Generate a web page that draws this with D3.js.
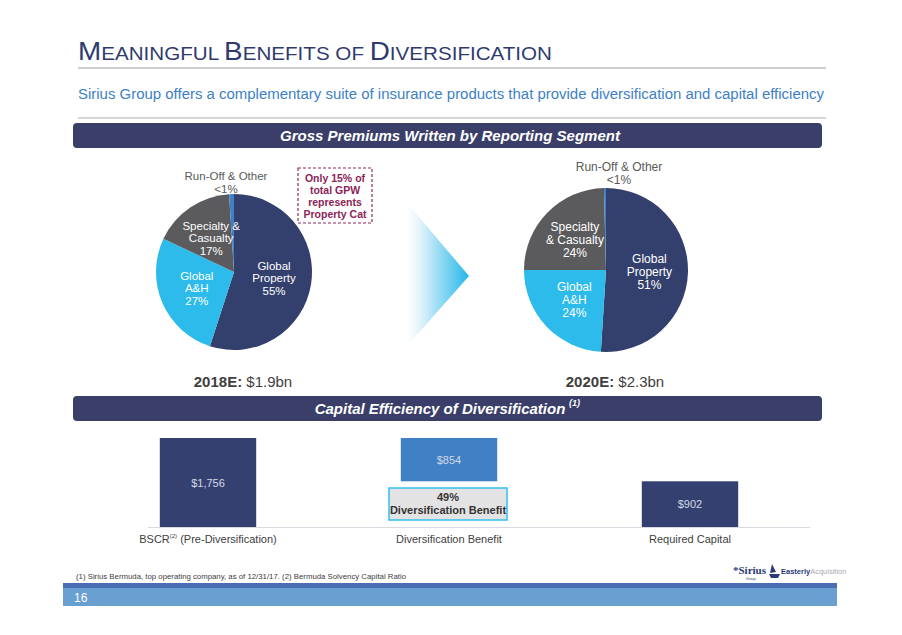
<!DOCTYPE html>
<html><head><meta charset="utf-8">
<script src="https://cdn.jsdelivr.net/npm/d3@7"></script>
<style>body{margin:0;background:#fff}svg{display:block;font-family:"Liberation Sans",Arial,sans-serif}</style>
</head><body><svg id="c" width="902" height="635"></svg>
<script>
// ---- data ----
const segments = ["Global Property","Global A&H","Specialty & Casualty","Run-Off & Other"];
const values2018 = [55, 27, 17, 1];
const labels2018 = [["Global","Property","55%"],["Global","A&H","27%"],["Specialty &","Casualty","17%"],["Run-Off & Other","<1%"]];
const values2020 = [51, 24, 24.6, 0.4];
const labels2020 = [["Global","Property","51%"],["Global","A&H","24%"],["Specialty","& Casualty","24%"],["Run-Off & Other","<1%"]];
const segmentColors = ["#333f6d","#2cbbea","#5b5b5d","#3e80c6"];
const capitalCategories = ["BSCR","Diversification Benefit","Required Capital"];
const capitalStart = [0, 902, 0];
const capitalEnd = [1756, 1756, 902];
const capitalLabels = ["$1,756","$854","$902"];
const capitalColors = ["#344170","#4080c4","#344170"];

const svg = d3.select("#c");
const defs = svg.append("defs");

// ---- title ----
const title = svg.append("text").attr("x",78).attr("y",60).attr("fill","#2f3b6f")
  .attr("textLength",474).attr("lengthAdjust","spacingAndGlyphs");
[["M",25],["EANINGFUL ",18.5],["B",25],["ENEFITS OF ",18.5],["D",25],["IVERSIFICATION",18.5]]
  .forEach(([t,s])=>title.append("tspan").attr("font-size",s).text(t));
svg.append("line").attr("x1",78).attr("x2",826).attr("y1",68).attr("y2",68).attr("stroke","#bdbdbd").attr("stroke-width",1.5);
svg.append("text").attr("x",78).attr("y",99).attr("font-size",15.5).attr("fill","#3d7fc6")
  .attr("textLength",746).attr("lengthAdjust","spacingAndGlyphs")
  .text("Sirius Group offers a complementary suite of insurance products that provide diversification and capital efficiency");
svg.append("line").attr("x1",78).attr("x2",826).attr("y1",118).attr("y2",118).attr("stroke","#c8c8c8").attr("stroke-width",1.5);

function header(y, txt, cx){
  svg.append("rect").attr("x",73).attr("y",y).attr("width",749).attr("height",25).attr("rx",4).attr("fill","#3a3e68");
  svg.append("text").attr("x",cx).attr("y",y+18).attr("text-anchor","middle").attr("fill","#fff")
    .attr("font-size",15).attr("font-weight","bold").attr("font-style","italic").text(txt);
}
header(123, "Gross Premiums Written by Reporting Segment", 450);
header(396, "Capital Efficiency of Diversification", 440);
svg.append("text").attr("x",569).attr("y",406).attr("fill","#fff").attr("font-size",9)
  .attr("font-weight","bold").attr("font-style","italic").text("(1)");

// ---- pies ----
function drawPie(cx, cy, r, values, labels, lf, fs, lh, runPos){
  const pie = d3.pie().sort(null).value(d=>d)(values);
  const arc = d3.arc().innerRadius(0).outerRadius(r);
  const larc = d3.arc().innerRadius(r*lf).outerRadius(r*lf);
  const g = svg.append("g").attr("transform",`translate(${cx},${cy})`);
  g.selectAll("path").data(pie).join("path").attr("d",arc).attr("fill",(d,i)=>segmentColors[i]);
  pie.forEach((d,i)=>{
    if(i===3) return;
    const [x,y] = larc.centroid(d);
    const lines = labels[i];
    const t = g.append("text").attr("text-anchor","middle").attr("fill","#fff").attr("font-size",fs);
    lines.forEach((l,k)=>t.append("tspan").attr("x",x).attr("y",y + (k-(lines.length-1)/2)*lh + fs*0.35).text(l));
  });
  const t = svg.append("text").attr("text-anchor","middle").attr("fill","#595959").attr("font-size",fs);
  labels[3].forEach((l,k)=>t.append("tspan").attr("x",runPos[0]).attr("y",runPos[1]+k*lh).text(l));
}
drawPie(234, 272, 78, values2018, labels2018, 0.52, 11.5, 12.5, [226,180]);
drawPie(606, 270, 82, values2020, labels2020, 0.53, 12, 13, [619,171]);

// callout
svg.append("rect").attr("x",298).attr("y",168).attr("width",74).attr("height",55)
  .attr("fill","#fff").attr("stroke","#8b2a5c").attr("stroke-width",1.2).attr("stroke-dasharray","3,2");
const co = svg.append("text").attr("text-anchor","middle").attr("fill","#8b2457").attr("font-size",10.5).attr("font-weight","bold");
["Only 15% of","total GPW","represents","Property Cat"].forEach((l,k)=>co.append("tspan").attr("x",335).attr("y",182+k*12).text(l));

// arrow
const grad = defs.append("linearGradient").attr("id","ag").attr("gradientUnits","userSpaceOnUse")
  .attr("x1",407).attr("x2",469).attr("y1",0).attr("y2",0);
grad.append("stop").attr("offset",0).attr("stop-color","#ffffff");
grad.append("stop").attr("offset",0.2).attr("stop-color","#e4f4fb");
grad.append("stop").attr("offset",1).attr("stop-color","#25b7e9");
svg.append("path").attr("d","M407,203 L469,276 L407,346 Z").attr("fill","url(#ag)");

// totals
function total(x, a, b){
  const t = svg.append("text").attr("x",x).attr("y",387).attr("text-anchor","middle").attr("fill","#3f3f3f").attr("font-size",15);
  t.append("tspan").attr("font-weight","bold").text(a);
  t.append("tspan").text(b);
}
total(243, "2018E:", " $1.9bn");
total(615, "2020E:", " $2.3bn");

// ---- capital bars ----
const x = d3.scaleBand().domain(capitalCategories).range([87.5, 810.5]).paddingInner(0.6).paddingOuter(0.3);
const y = d3.scaleLinear().domain([0, 1756]).range([527, 438]);
svg.append("g").selectAll("rect").data(capitalCategories).join("rect")
  .attr("x",d=>x(d)).attr("width",x.bandwidth())
  .attr("y",(d,i)=>y(capitalEnd[i])).attr("height",(d,i)=>y(capitalStart[i])-y(capitalEnd[i]))
  .attr("fill",(d,i)=>capitalColors[i]);
svg.append("line").attr("x1",148).attr("x2",810).attr("y1",527.5).attr("y2",527.5).attr("stroke","#d9d9e2").attr("stroke-width",1);
svg.append("g").selectAll("text").data(capitalCategories).join("text")
  .attr("x",d=>x(d)+x.bandwidth()/2)
  .attr("y",(d,i)=>(y(capitalStart[i])+y(capitalEnd[i]))/2+4)
  .attr("text-anchor","middle").attr("font-size",11).attr("fill","#d3d9e8")
  .text((d,i)=>capitalLabels[i]);

// diversification benefit box
svg.append("rect").attr("x",389).attr("y",488).attr("width",118).attr("height",32)
  .attr("fill","#e3e3e3").attr("stroke","#33c0ee").attr("stroke-width",1.5);
const db = svg.append("text").attr("text-anchor","middle").attr("fill","#333").attr("font-size",11).attr("font-weight","bold");
db.append("tspan").attr("x",448).attr("y",501).text("49%");
db.append("tspan").attr("x",448).attr("y",514).text("Diversification Benefit");

// category labels
capitalCategories.forEach((c,i)=>{
  const t = svg.append("text").attr("x",x(c)+x.bandwidth()/2).attr("y",543).attr("text-anchor","middle")
    .attr("font-size",11).attr("fill","#404040");
  if(i===0){
    t.append("tspan").text("BSCR");
    t.append("tspan").attr("font-size",6).attr("dy",-5).text("(2)");
    t.append("tspan").attr("dy",5).text(" (Pre-Diversification)");
  } else t.text(c);
});

// footnote
svg.append("text").attr("x",76).attr("y",579).attr("font-size",8).attr("fill","#404040")
  .attr("textLength",330).attr("lengthAdjust","spacingAndGlyphs")
  .text("(1)  Sirius Bermuda, top operating company, as of 12/31/17. (2) Bermuda Solvency Capital Ratio");

// logos
svg.append("text").attr("x",733).attr("y",574).attr("font-family","Liberation Serif, serif").attr("font-weight","bold")
  .attr("font-size",11).attr("fill","#2b3a7a").text("*Sirius");
svg.append("text").attr("x",746).attr("y",580).attr("font-size",3.5).attr("fill","#2b3a7a").text("Group");
svg.append("path").attr("d","M772,564 L776,572 L770,573 Z M769,574 L780,574 L778,578 L771,578 Z").attr("fill","#2b3a7a");
const ea = svg.append("text").attr("x",781).attr("y",574).attr("font-size",7.5);
ea.append("tspan").attr("font-weight","bold").attr("fill","#2b3a7a").text("Easterly");
ea.append("tspan").attr("fill","#a8a8b0").text("Acquisition");

// footer
svg.append("rect").attr("x",63).attr("y",583).attr("width",774).attr("height",5).attr("fill","#4b6db3");
svg.append("rect").attr("x",63).attr("y",588).attr("width",774).attr("height",18).attr("fill","#699fd1");
svg.append("text").attr("x",74).attr("y",602).attr("font-size",12).attr("fill","#fff").text("16");
</script></body></html>
